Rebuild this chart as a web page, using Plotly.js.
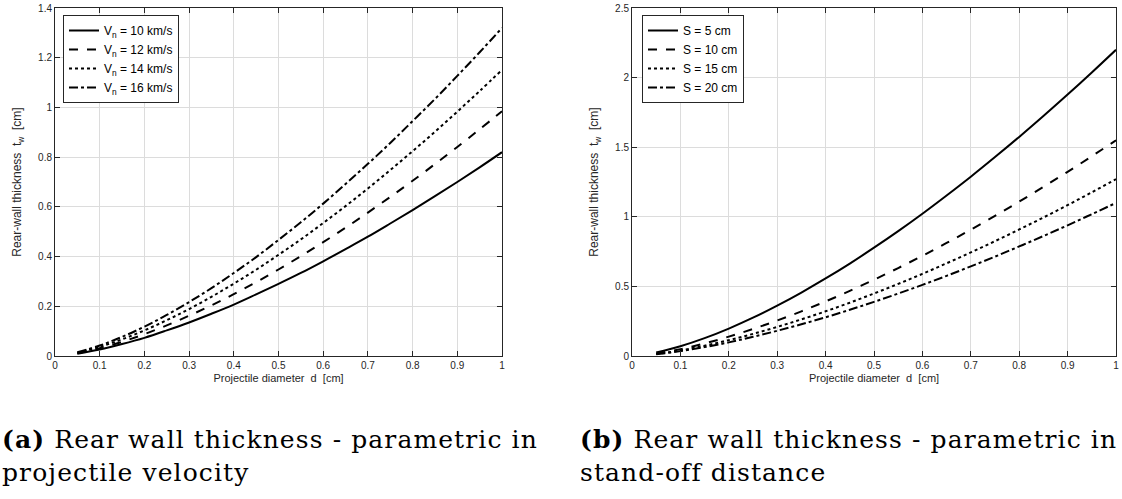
<!DOCTYPE html>
<html>
<head>
<meta charset="utf-8">
<script src="https://cdn.plot.ly/plotly-3.0.1.min.js"></script>
<style>html,body{margin:0;padding:0;background:#fff;}#chart{width:1122px;height:499px;}
.annotation-text{letter-spacing:1.1px;}</style>
</head>
<body>
<div id="chart"></div>
<script>
// Projectile diameter d [cm]
const diameter = [0.05,0.10,0.15,0.20,0.25,0.30,0.35,0.40,0.45,0.50,0.55,0.60,0.65,0.70,0.75,0.80,0.85,0.90,0.95,1.00];

// (a) parametric in projectile velocity
const velLabels = ['V<sub>n</sub> = 10 km/s','V<sub>n</sub> = 12 km/s','V<sub>n</sub> = 14 km/s','V<sub>n</sub> = 16 km/s'];
const tw_v10 = [0.009,0.026,0.048,0.073,0.103,0.135,0.170,0.207,0.248,0.290,0.334,0.381,0.430,0.480,0.533,0.587,0.643,0.700,0.759,0.820];
const tw_v12 = [0.011,0.031,0.057,0.088,0.123,0.162,0.204,0.249,0.297,0.348,0.402,0.458,0.516,0.577,0.640,0.705,0.772,0.841,0.912,0.985];
const tw_v14 = [0.013,0.037,0.067,0.103,0.144,0.189,0.238,0.291,0.347,0.407,0.469,0.535,0.603,0.674,0.748,0.824,0.902,0.983,1.066,1.151];
const tw_v16 = [0.015,0.042,0.077,0.118,0.165,0.217,0.273,0.334,0.398,0.467,0.538,0.613,0.692,0.773,0.857,0.945,1.034,1.127,1.222,1.320];

// (b) parametric in stand-off distance
const sLabels = ['S = 5 cm','S = 10 cm','S = 15 cm','S = 20 cm'];
const tw_s5  = [0.025,0.070,0.128,0.197,0.275,0.362,0.456,0.557,0.664,0.778,0.897,1.022,1.153,1.288,1.429,1.574,1.724,1.878,2.037,2.200];
const tw_s10 = [0.017,0.049,0.090,0.139,0.194,0.255,0.321,0.392,0.468,0.548,0.632,0.720,0.812,0.908,1.007,1.109,1.215,1.323,1.435,1.550];
const tw_s15 = [0.014,0.040,0.074,0.114,0.159,0.209,0.263,0.321,0.383,0.449,0.518,0.590,0.666,0.744,0.825,0.909,0.995,1.084,1.176,1.270];
const tw_s20 = [0.012,0.035,0.064,0.098,0.138,0.181,0.228,0.278,0.332,0.389,0.449,0.511,0.576,0.644,0.714,0.787,0.862,0.939,1.019,1.100];

const xTicks = [0,0.1,0.2,0.3,0.4,0.5,0.6,0.7,0.8,0.9,1];
const xTickText = ['0','0.1','0.2','0.3','0.4','0.5','0.6','0.7','0.8','0.9','1'];
const yTicksA = [0,0.2,0.4,0.6,0.8,1,1.2,1.4];
const yTickTextA = ['0','0.2','0.4','0.6','0.8','1','1.2','1.4'];
const yTicksB = [0,0.5,1,1.5,2,2.5];
const yTickTextB = ['0','0.5','1','1.5','2','2.5'];

const dashes = ['solid','dash','dot','dashdot'];
const seriesA = [tw_v10,tw_v12,tw_v14,tw_v16];
const seriesB = [tw_s5,tw_s10,tw_s15,tw_s20];

const traces = [];
seriesA.forEach((y,i)=>traces.push({x:diameter,y:y,type:'scatter',mode:'lines',name:velLabels[i],
  line:{color:'#000',width:2,dash:dashes[i],shape:'spline'},xaxis:'x',yaxis:'y',legend:'legend'}));
seriesB.forEach((y,i)=>traces.push({x:diameter,y:y,type:'scatter',mode:'lines',name:sLabels[i],
  line:{color:'#000',width:2,dash:dashes[i],shape:'spline'},xaxis:'x2',yaxis:'y2',legend:'legend2'}));

const font = {family:'Liberation Sans, Arial, sans-serif',size:10,color:'#262626'};
function xAx(domain,anchor){
  return {domain:domain,anchor:anchor,range:[0,1],tickvals:xTicks,ticktext:xTickText,
    ticks:'inside',ticklen:5,tickcolor:'#262626',showline:true,linecolor:'#262626',linewidth:1,mirror:'ticks',
    showgrid:true,gridcolor:'#dcdcdc',gridwidth:1,zeroline:false,tickfont:font,
    title:{text:'Projectile diameter  d  [cm]',font:{family:font.family,size:11,color:'#262626'},standoff:4}};
}
function yAx(domain,anchor,range,tv,tt){
  return {domain:domain,anchor:anchor,range:range,tickvals:tv,ticktext:tt,
    ticks:'inside',ticklen:5,tickcolor:'#262626',showline:true,linecolor:'#262626',linewidth:1,mirror:'ticks',
    showgrid:true,gridcolor:'#dcdcdc',gridwidth:1,zeroline:false,tickfont:font,
    title:{text:'Rear-wall thickness  t<sub>w</sub>  [cm]',font:{family:font.family,size:12,color:'#262626'},standoff:13}};
}
const yDom = [(499-356)/499,(499-8)/499];
const capFont = {family:'DejaVu Serif, Liberation Serif, serif',size:25,color:'#000'};
const legFont = {family:font.family,size:12,color:'#000'};
const layout = {
  width:1122,height:499,margin:{l:0,r:0,t:0,b:0},paper_bgcolor:'#fff',plot_bgcolor:'#fff',
  showlegend:true,font:font,
  xaxis:xAx([55/1122,502/1122],'y'),
  yaxis:yAx(yDom,'x',[0,1.4],yTicksA,yTickTextA),
  xaxis2:xAx([632/1122,1116/1122],'y2'),
  yaxis2:yAx(yDom,'x2',[0,2.5],yTicksB,yTickTextB),
  legend:{x:63/1122,y:1-15/499,xanchor:'left',yanchor:'top',bgcolor:'#fff',bordercolor:'#262626',borderwidth:1,
    font:legFont,tracegroupgap:0,itemwidth:30},
  legend2:{x:642/1122,y:1-15/499,xanchor:'left',yanchor:'top',bgcolor:'#fff',bordercolor:'#262626',borderwidth:1,
    font:legFont,tracegroupgap:0,itemwidth:30},
  annotations:[
    {xref:'paper',yref:'paper',x:0/1122,y:1-423/499,xanchor:'left',yanchor:'top',showarrow:false,align:'left',
      text:'<b>(a)</b> Rear wall thickness - parametric in<br>projectile velocity',font:capFont},
    {xref:'paper',yref:'paper',x:578/1122,y:1-423/499,xanchor:'left',yanchor:'top',showarrow:false,align:'left',
      text:'<b>(b)</b> Rear wall thickness - parametric in<br>stand-off distance',font:capFont}
  ]
};
Plotly.newPlot('chart',traces,layout,{displayModeBar:false,staticPlot:true});
</script>
</body>
</html>
